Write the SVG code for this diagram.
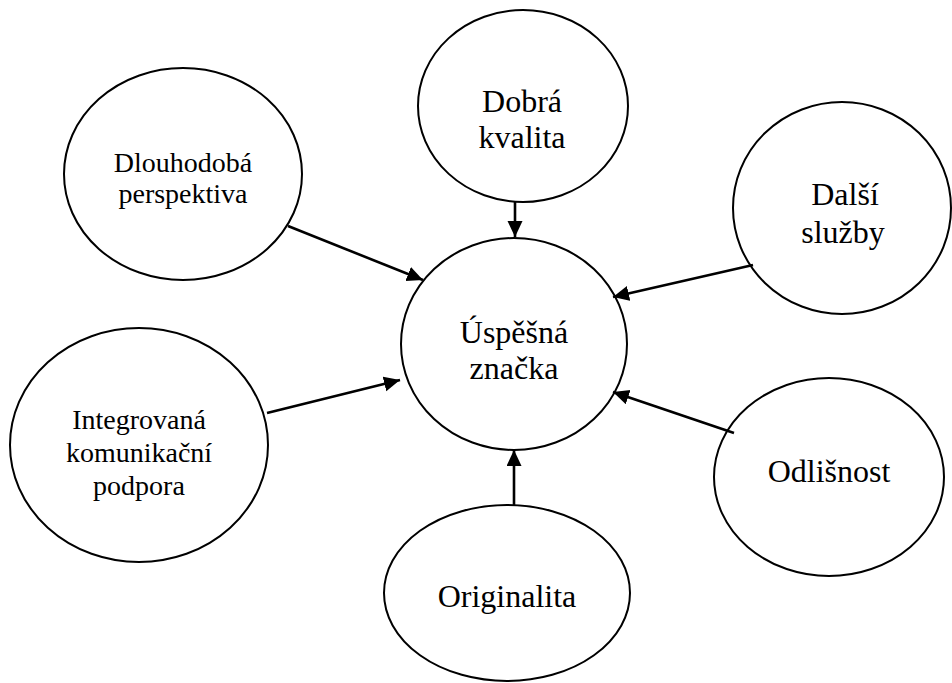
<svg xmlns="http://www.w3.org/2000/svg" width="952" height="683" viewBox="0 0 952 683">
  <style>
    .node ellipse { fill: #ffffff; stroke: #000000; stroke-width: 2; }
    .node text { font-family: "Liberation Serif", "Times New Roman", serif; fill: #000000; text-anchor: middle; }
    .big { font-size: 32px; }
    .small { font-size: 28px; }
    .edge { stroke: #000000; stroke-width: 2.6; fill: none; marker-end: url(#arrow); }
  </style>
  <defs>
    <marker id="arrow" markerUnits="userSpaceOnUse" markerWidth="17" markerHeight="16" refX="16" refY="7.5" orient="auto">
      <path d="M0,0 L16,7.5 L0,15 z" fill="#000000"/>
    </marker>
  </defs>
  <rect width="952" height="683" fill="#ffffff"/>

  <!-- centre node -->
  <g id="uspesna-znacka" class="node">
    <ellipse cx="514" cy="344" rx="113" ry="106"/>
    <text class="big" x="514" y="343">Úspěšná</text>
    <text class="big" x="514" y="379">značka</text>
  </g>

  <g id="dobra-kvalita" class="node">
    <ellipse cx="523" cy="106" rx="105" ry="96"/>
    <text class="big" x="522" y="112">Dobrá</text>
    <text class="big" x="522" y="148">kvalita</text>
  </g>

  <g id="dlouhodoba-perspektiva" class="node">
    <ellipse cx="183" cy="174" rx="119" ry="106"/>
    <text class="small" x="183" y="172">Dlouhodobá</text>
    <text class="small" x="183" y="203">perspektiva</text>
  </g>

  <g id="dalsi-sluzby" class="node">
    <ellipse cx="842" cy="208" rx="109" ry="106"/>
    <text class="big" x="845" y="205">Další</text>
    <text class="big" x="843" y="243">služby</text>
  </g>

  <g id="integrovana-komunikacni-podpora" class="node">
    <ellipse cx="139" cy="445" rx="129" ry="117"/>
    <text class="small" x="139" y="429">Integrovaná</text>
    <text class="small" x="139" y="462">komunikační</text>
    <text class="small" x="139" y="495">podpora</text>
  </g>

  <g id="odlisnost" class="node">
    <ellipse cx="829" cy="477" rx="115" ry="99"/>
    <text class="big" x="829" y="482">Odlišnost</text>
  </g>

  <g id="originalita" class="node">
    <ellipse cx="507" cy="593" rx="123" ry="88"/>
    <text class="big" x="507" y="607">Originalita</text>
  </g>

  <!-- connectors, all pointing into the centre node -->
  <g id="connectors">
    <line class="edge" x1="515" y1="202" x2="515" y2="237"/>
    <line class="edge" x1="288" y1="226" x2="423" y2="280"/>
    <line class="edge" x1="753" y1="265" x2="613" y2="297"/>
    <line class="edge" x1="267" y1="413" x2="400" y2="380"/>
    <line class="edge" x1="734" y1="433" x2="613" y2="392"/>
    <line class="edge" x1="514" y1="505" x2="514" y2="450"/>
  </g>
</svg>
